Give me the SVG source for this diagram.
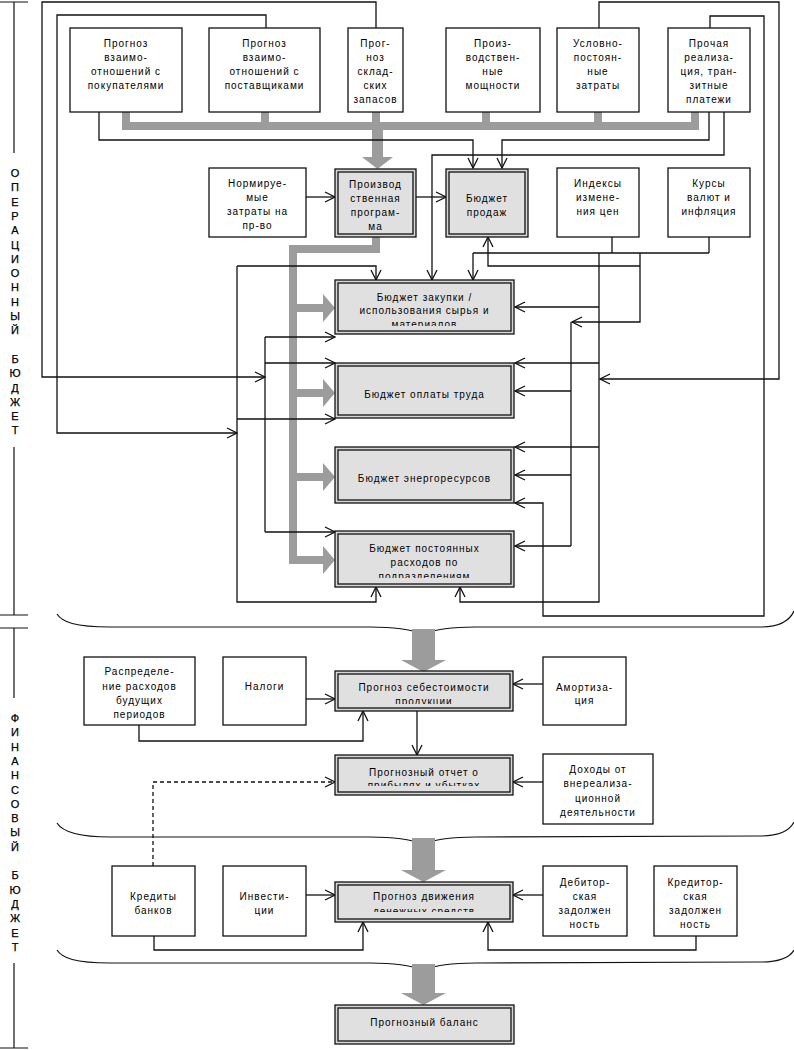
<svg xmlns="http://www.w3.org/2000/svg" width="794" height="1050" viewBox="0 0 794 1050">
<style>
.bx{fill:#fff;stroke:#111;stroke-width:1.3}
.mo{fill:#d6d6d6;stroke:#111;stroke-width:1.3}
.mi{fill:#e0e0e0;stroke:#111;stroke-width:1.3}
text{font-family:"Liberation Sans",Arial,sans-serif;font-size:10px;letter-spacing:1px;fill:#000;text-anchor:middle}
.ln{fill:none;stroke:#111;stroke-width:1.3}
.ar{marker-end:url(#ah)}
.ds{stroke-dasharray:4 3}
.g{fill:none;stroke:#9c9c9c}
.gf{fill:#9c9c9c}
.lb{font-size:11px;letter-spacing:0;stroke:#000;stroke-width:0.25}
.br{fill:none;stroke:#111;stroke-width:1.2}
</style>
<defs>
<marker id="ah" viewBox="0 0 12 12" refX="11" refY="6" markerWidth="12" markerHeight="12" markerUnits="userSpaceOnUse" orient="auto">
<path d="M1,1 L11,6 L1,11" fill="none" stroke="#111" stroke-width="1.3"/>
</marker>
<clipPath id="c1"><rect x="338" y="283" width="173" height="43"/></clipPath>
<clipPath id="c2"><rect x="338" y="534" width="173" height="44"/></clipPath>
<clipPath id="c3"><rect x="338" y="674" width="172" height="30"/></clipPath>
<clipPath id="c4"><rect x="338" y="758" width="172" height="28"/></clipPath>
<clipPath id="c5"><rect x="338" y="885" width="172" height="27"/></clipPath>
</defs>

<!-- side labels -->
<g id="label-oper">
<path class="br" d="M0,2H28 M14,2V153 M14,447V615 M0,615H28"/>
<text class="lb" x="15" y="177"><tspan x="15">О</tspan><tspan x="15" dy="14.3">П</tspan><tspan x="15" dy="14.3">Е</tspan><tspan x="15" dy="14.3">Р</tspan><tspan x="15" dy="14.3">А</tspan><tspan x="15" dy="14.3">Ц</tspan><tspan x="15" dy="14.3">И</tspan><tspan x="15" dy="14.3">О</tspan><tspan x="15" dy="14.3">Н</tspan><tspan x="15" dy="14.3">Н</tspan><tspan x="15" dy="14.3">Ы</tspan><tspan x="15" dy="14.3">Й</tspan><tspan x="15" dy="28.6">Б</tspan><tspan x="15" dy="14.3">Ю</tspan><tspan x="15" dy="14.3">Д</tspan><tspan x="15" dy="14.3">Ж</tspan><tspan x="15" dy="14.3">Е</tspan><tspan x="15" dy="14.3">Т</tspan></text>
</g>
<g id="label-fin">
<path class="br" d="M0,628H28 M14,628V698 M14,963V1048 M0,1048H28"/>
<text class="lb" x="15" y="722"><tspan x="15">Ф</tspan><tspan x="15" dy="14.3">И</tspan><tspan x="15" dy="14.3">Н</tspan><tspan x="15" dy="14.3">А</tspan><tspan x="15" dy="14.3">Н</tspan><tspan x="15" dy="14.3">С</tspan><tspan x="15" dy="14.3">О</tspan><tspan x="15" dy="14.3">В</tspan><tspan x="15" dy="14.3">Ы</tspan><tspan x="15" dy="14.3">Й</tspan><tspan x="15" dy="28.6">Б</tspan><tspan x="15" dy="14.3">Ю</tspan><tspan x="15" dy="14.3">Д</tspan><tspan x="15" dy="14.3">Ж</tspan><tspan x="15" dy="14.3">Е</tspan><tspan x="15" dy="14.3">Т</tspan></text>
</g>

<!-- braces -->
<g id="braces">
<path class="br" d="M57,614 C62,622 75,627 110,627 L370,627 C395,627 410,629 423,634 C436,629 450,627 475,627 L760,627 C780,627 790,620 794,611"/>
<path class="br" d="M57,823 C62,831 75,837 110,837 L370,837 C395,837 410,839 423,844 C436,839 450,837 475,837 L760,836 C780,836 790,830 794,822"/>
<path class="br" d="M57,950 C62,958 75,963 110,963 L370,963 C395,963 410,965 423,970 C436,965 450,963 475,963 L760,962 C780,962 790,957 794,950"/>
</g>

<!-- connectors -->
<g id="connectors">
<!-- gray thick -->
<path class="g" stroke-width="8" d="M126,112V130 M265,112V130 M376,112V130 M486,112V130 M598,112V130 M695,112V130 M122,126H699"/>
<path class="g" stroke-width="11" d="M377.5,126V158"/>
<polygon class="gf" points="362,157 393,157 377.5,169"/>
<path class="g" stroke-width="8" stroke-linejoin="miter" d="M376,237V249H293V564"/>
<path class="g" stroke-width="8" d="M293,308H324 M293,393H324 M293,477H324 M293,560H324"/>
<polygon class="gf" points="323,294 335,308 323,322"/>
<polygon class="gf" points="323,379 335,393 323,407"/>
<polygon class="gf" points="323,463 335,477 323,491"/>
<polygon class="gf" points="323,546 335,560 323,574"/>
<rect class="gf" x="412" y="629" width="23" height="32"/>
<polygon class="gf" points="401,660 446,660 423.5,672"/>
<rect class="gf" x="412" y="838" width="23" height="33"/>
<polygon class="gf" points="401,870 446,870 423.5,882"/>
<rect class="gf" x="412" y="964" width="23" height="30"/>
<polygon class="gf" points="401,993 446,993 423.5,1005"/>

<!-- thin lines top -->
<polyline class="ln ar" points="376,28 376,2 42,2 42,377 265,377"/>
<polyline class="ln ar" points="266,28 266,15 57,15 57,433 237,433"/>
<polyline class="ln ar" points="599,28 599,2 779,2 779,379 600,379"/>
<polyline class="ln ar" points="710,28 710,16 764,16 764,616 543,616 543,503 515,503"/>
<polyline class="ln ar" points="99,112 99,140 473,140 473,168"/>
<polyline class="ln ar" points="709,112 709,140 502,140 502,168"/>
<polyline class="ln ar" points="724,112 724,155 432,155 432,280"/>
<polyline class="ln ar" points="306,197 335,197"/>
<polyline class="ln ar" points="416,197 446,197"/>
<polyline class="ln" points="612,237 612,253"/>
<polyline class="ln" points="709,237 709,253"/>
<polyline class="ln" points="473,253 709,253"/>
<polyline class="ln ar" points="473,253 473,280"/>
<polyline class="ln ar" points="640,253 640,322 572,322"/>
<polyline class="ln ar" points="640,266 488,266 488,237"/>
<polyline class="ln ar" points="599,253 599,602 460,602 460,587"/>
<polyline class="ln ar" points="599,307 515,307"/>
<polyline class="ln ar" points="599,363 515,363"/>
<polyline class="ln ar" points="599,447 515,447"/>
<polyline class="ln" points="571,322 571,546"/>
<polyline class="ln ar" points="571,391 515,391"/>
<polyline class="ln ar" points="571,475 515,475"/>
<polyline class="ln ar" points="571,546 515,546"/>
<polyline class="ln" points="265,337 265,532"/>
<polyline class="ln ar" points="265,337 335,337"/>
<polyline class="ln ar" points="265,363 335,363"/>
<polyline class="ln ar" points="265,532 335,532"/>
<polyline class="ln ar" points="237,266 376,266 376,280"/>
<polyline class="ln ar" points="237,266 237,602 376,602 376,587"/>
<polyline class="ln ar" points="237,419 335,419"/>
<!-- financial -->
<polyline class="ln ar" points="306,699 335,699"/>
<polyline class="ln ar" points="139,725 139,741 363,741 363,711"/>
<polyline class="ln ar" points="543,684 513,684"/>
<polyline class="ln ar" points="417,711 417,755"/>
<polyline class="ln ar" points="543,782 513,782"/>
<polyline class="ln ar ds" points="153,866 153,782 335,782"/>
<polyline class="ln ar" points="306,895 335,895"/>
<polyline class="ln ar" points="154,936 154,950 363,950 363,922"/>
<polyline class="ln ar" points="543,895 513,895"/>
<polyline class="ln ar" points="696,936 696,950 488,950 488,922"/>
</g>

<!-- top row -->
<g id="n-pokup"><rect class="bx" x="70" y="28" width="112" height="84"/>
<text x="126" y="47">Прогноз</text><text x="126" y="61">взаимо-</text><text x="126" y="75">отношений с</text><text x="126" y="89">покупателями</text></g>
<g id="n-postav"><rect class="bx" x="209" y="28" width="111" height="84"/>
<text x="264.5" y="47">Прогноз</text><text x="264.5" y="61">взаимо-</text><text x="264.5" y="75">отношений с</text><text x="264.5" y="89">поставщиками</text></g>
<g id="n-zapas"><rect class="bx" x="348" y="28" width="55" height="84"/>
<text x="375.5" y="47">Прог-</text><text x="375.5" y="61">ноз</text><text x="375.5" y="75">склад-</text><text x="375.5" y="89">ских</text><text x="375.5" y="103">запасов</text></g>
<g id="n-mosch"><rect class="bx" x="446" y="28" width="94" height="84"/>
<text x="493" y="47">Произ-</text><text x="493" y="61">водствен-</text><text x="493" y="75">ные</text><text x="493" y="89">мощности</text></g>
<g id="n-uslov"><rect class="bx" x="557" y="28" width="82" height="84"/>
<text x="598" y="47">Условно-</text><text x="598" y="61">постоян-</text><text x="598" y="75">ные</text><text x="598" y="89">затраты</text></g>
<g id="n-proch"><rect class="bx" x="668" y="28" width="82" height="84"/>
<text x="709" y="47">Прочая</text><text x="709" y="61">реализа-</text><text x="709" y="75">ция, тран-</text><text x="709" y="89">зитные</text><text x="709" y="103">платежи</text></g>

<!-- second row -->
<g id="n-norm"><rect class="bx" x="209" y="168" width="97" height="69"/>
<text x="257.5" y="187">Нормируе-</text><text x="257.5" y="201">мые</text><text x="257.5" y="215">затраты на</text><text x="257.5" y="229">пр-во</text></g>
<g id="n-pp"><rect class="mo" x="335" y="169" width="81" height="68"/><rect class="mi" x="338" y="172" width="75" height="62"/>
<text x="375.5" y="188">Производ</text><text x="375.5" y="202">ственная</text><text x="375.5" y="216">програм-</text><text x="375.5" y="230">ма</text></g>
<g id="n-prodazh"><rect class="mo" x="446" y="169" width="82" height="68"/><rect class="mi" x="449" y="172" width="76" height="62"/>
<text x="487" y="202">Бюджет</text><text x="487" y="216">продаж</text></g>
<g id="n-index"><rect class="bx" x="557" y="168" width="82" height="69"/>
<text x="598" y="187">Индексы</text><text x="598" y="201">измене-</text><text x="598" y="215">ния цен</text></g>
<g id="n-kurs"><rect class="bx" x="668" y="168" width="82" height="69"/>
<text x="709" y="187">Курсы</text><text x="709" y="201">валют и</text><text x="709" y="215">инфляция</text></g>

<!-- operational budgets -->
<g id="n-zakup"><rect class="mo" x="335" y="280" width="179" height="54"/><rect class="mi" x="338" y="283" width="173" height="48"/>
<g clip-path="url(#c1)"><text x="424.5" y="300.5">Бюджет закупки /</text><text x="424.5" y="314">использования сырья и</text><text x="424.5" y="328">материалов</text></g></g>
<g id="n-trud"><rect class="mo" x="335" y="363" width="179" height="55"/><rect class="mi" x="338" y="366" width="173" height="49"/>
<text x="424.5" y="398">Бюджет оплаты труда</text></g>
<g id="n-energ"><rect class="mo" x="335" y="447" width="179" height="56"/><rect class="mi" x="338" y="450" width="173" height="50"/>
<text x="424.5" y="482">Бюджет энергоресурсов</text></g>
<g id="n-postoyan"><rect class="mo" x="335" y="531" width="179" height="56"/><rect class="mi" x="338" y="534" width="173" height="50"/>
<g clip-path="url(#c2)"><text x="424.5" y="551.5">Бюджет постоянных</text><text x="424.5" y="565.5">расходов по</text><text x="424.5" y="580">подразделениям</text></g></g>

<!-- financial -->
<g id="n-raspr"><rect class="bx" x="84" y="657" width="111" height="68"/>
<text x="139.5" y="675">Распределе-</text><text x="139.5" y="690">ние расходов</text><text x="139.5" y="704">будущих</text><text x="139.5" y="718">периодов</text></g>
<g id="n-nalog"><rect class="bx" x="223" y="657" width="83" height="68"/>
<text x="264.5" y="690">Налоги</text></g>
<g id="n-sebest"><rect class="mo" x="335" y="671" width="178" height="40"/><rect class="mi" x="338" y="674" width="172" height="34"/>
<g clip-path="url(#c3)"><text x="424" y="690.5">Прогноз себестоимости</text><text x="424" y="705">продукции</text></g></g>
<g id="n-amort"><rect class="bx" x="543" y="657" width="83" height="68"/>
<text x="584.5" y="690.5">Амортиза-</text><text x="584.5" y="703.5">ция</text></g>
<g id="n-otchet"><rect class="mo" x="335" y="755" width="178" height="40"/><rect class="mi" x="338" y="758" width="172" height="34"/>
<g clip-path="url(#c4)"><text x="424" y="775.5">Прогнозный отчет о</text><text x="424" y="789">прибылях и убытках</text></g></g>
<g id="n-dohody"><rect class="bx" x="543" y="754" width="110" height="70"/>
<text x="598" y="772.5">Доходы от</text><text x="598" y="786.5">внереализа-</text><text x="598" y="801.5">ционной</text><text x="598" y="815.5">деятельности</text></g>
<g id="n-kredity"><rect class="bx" x="112" y="866" width="83" height="70"/>
<text x="153.5" y="899.5">Кредиты</text><text x="153.5" y="913.5">банков</text></g>
<g id="n-invest"><rect class="bx" x="223" y="866" width="83" height="70"/>
<text x="264.5" y="899.5">Инвести-</text><text x="264.5" y="913.5">ции</text></g>
<g id="n-dds"><rect class="mo" x="335" y="882" width="178" height="40"/><rect class="mi" x="338" y="885" width="172" height="34"/>
<g clip-path="url(#c5)"><text x="424" y="899.5">Прогноз движения</text><text x="424" y="915">денежных средств</text></g></g>
<g id="n-debit"><rect class="bx" x="543" y="866" width="84" height="70"/>
<text x="585" y="885.5">Дебитор-</text><text x="585" y="899.5">ская</text><text x="585" y="913.5">задолжен</text><text x="585" y="927.5">ность</text></g>
<g id="n-kredit"><rect class="bx" x="654" y="866" width="83" height="70"/>
<text x="695.5" y="885.5">Кредитор-</text><text x="695.5" y="899.5">ская</text><text x="695.5" y="913.5">задолжен</text><text x="695.5" y="927.5">ность</text></g>
<g id="n-balans"><rect class="mo" x="335" y="1005" width="179" height="39"/><rect class="mi" x="338" y="1008" width="173" height="33"/>
<text x="424.5" y="1025.5">Прогнозный баланс</text></g>
</svg>
